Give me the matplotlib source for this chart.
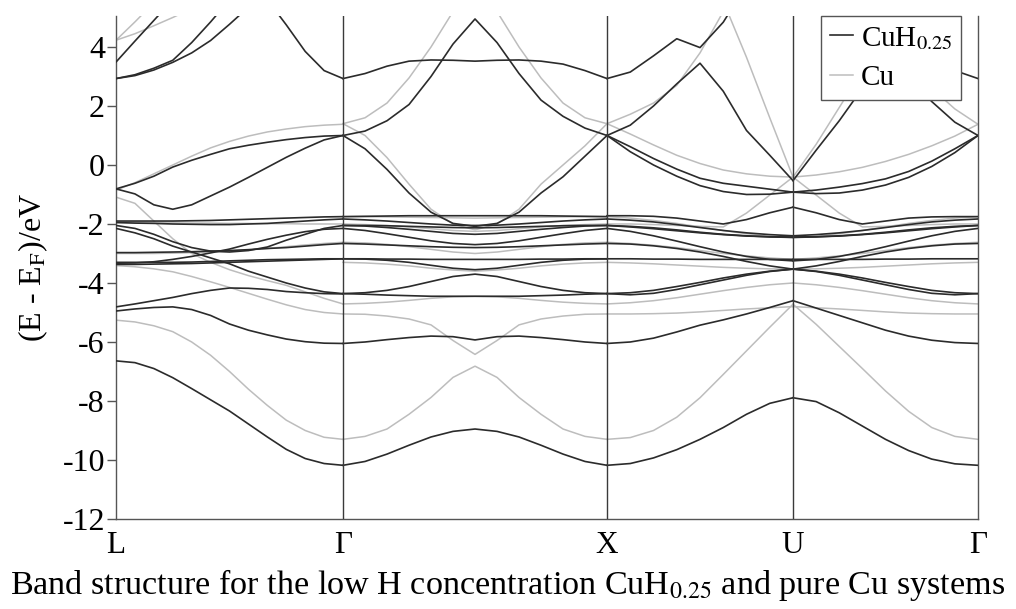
import numpy as np
import matplotlib
matplotlib.use('Agg')
import matplotlib.pyplot as plt
from matplotlib.lines import Line2D

plt.rcParams['font.family'] = ['Liberation Serif', 'DejaVu Serif']
plt.rcParams['mathtext.fontset'] = 'stix'
plt.rcParams['axes.unicode_minus'] = False

nan = np.nan

# k-path: high symmetry points and number of samples per segment
k_labels = ['L', 'Γ', 'X', 'U', 'Γ']
k_ticks = [0.0, 2.27, 4.91, 6.77, 8.62]
n_steps = [12, 12, 8, 8]

# band energies (eV), one list per band, per segment
# L -> Gamma
lg_cuh = [
    [3.49, 4.2, 4.9, 5.6, nan, nan, nan, nan, nan, nan, nan, nan, nan],
    [2.93, 3.06, 3.28, 3.55, 4.15, 4.85, 5.6, nan, nan, nan, nan, nan, nan],
    [2.93, 3.03, 3.22, 3.48, 3.8, 4.22, 4.77, 5.35, nan, nan, nan, nan, nan],
    [nan, nan, nan, nan, nan, nan, nan, nan, 5.6, 4.75, 3.85, 3.2, 2.93],
    [-0.81, -0.62, -0.38, -0.07, 0.16, 0.36, 0.55, 0.67, 0.77, 0.86, 0.93, 0.98, 1.0],
    [-0.81, -0.98, -1.35, -1.5, -1.35, -1.05, -0.75, -0.42, -0.08, 0.26, 0.57, 0.85, 1.0],
    [-1.9, -1.9, -1.9, -1.9, -1.89, -1.88, -1.86, -1.84, -1.82, -1.8, -1.78, -1.76, -1.75],
    [-1.95, -1.97, -1.98, -2.0, -2.01, -2.02, -2.02, -2.0, -1.98, -1.94, -1.9, -1.86, -1.83],
    [-2.05, -2.15, -2.35, -2.6, -2.8, -2.92, -2.95, -2.9, -2.78, -2.55, -2.35, -2.15, -2.05],
    [-2.15, -2.3, -2.5, -2.75, -2.95, -3.15, -3.35, -3.6, -3.8, -4.0, -4.17, -4.3, -4.36],
    [-3.33, -3.32, -3.28, -3.2, -3.1, -2.98, -2.85, -2.68, -2.52, -2.38, -2.26, -2.18, -2.15],
    [-3.3, -3.3, -3.3, -3.3, -3.29, -3.27, -3.25, -3.23, -3.21, -3.2, -3.19, -3.18, -3.18],
    [-3.37, -3.37, -3.36, -3.35, -3.34, -3.32, -3.3, -3.28, -3.26, -3.24, -3.22, -3.2, -3.18],
    [-2.97, -2.97, -2.96, -2.95, -2.94, -2.92, -2.9, -2.87, -2.83, -2.8, -2.75, -2.7, -2.66],
    [-4.81, -4.71, -4.6, -4.49, -4.36, -4.25, -4.17, -4.18, -4.22, -4.29, -4.33, -4.36, -4.37],
    [-4.95, -4.88, -4.83, -4.81, -4.9, -5.1, -5.39, -5.6, -5.76, -5.9, -5.99, -6.04, -6.05],
    [-6.64, -6.7, -6.9, -7.21, -7.58, -7.96, -8.34, -8.78, -9.22, -9.64, -9.95, -10.12, -10.18],
]
lg_cu = [
    [4.23, 4.85, 5.5, nan, nan, nan, nan, nan, nan, nan, nan, nan, nan],
    [4.23, 4.45, 4.72, 5.0, 5.3, nan, nan, nan, nan, nan, nan, nan, nan],
    [-0.85, -0.6, -0.3, 0.0, 0.3, 0.58, 0.8, 0.98, 1.12, 1.22, 1.3, 1.35, 1.38],
    [-1.09, -1.3, -1.9, -2.5, -3.0, -3.3, -3.55, -3.75, -3.92, -4.08, -4.3, -4.52, -4.71],
    [-1.95, -1.95, -1.96, -1.96, -1.97, -1.97, -1.98, -1.98, -1.99, -1.99, -2.0, -2.0, -2.0],
    [-3.0, -3.0, -3.0, -2.99, -2.97, -2.95, -2.92, -2.88, -2.83, -2.77, -2.71, -2.66, -2.62],
    [-3.41, -3.45, -3.52, -3.62, -3.78, -3.96, -4.15, -4.35, -4.55, -4.74, -4.9, -5.0, -5.05],
    [-5.26, -5.32, -5.45, -5.65, -6.0, -6.45, -7.0, -7.6, -8.15, -8.65, -9.0, -9.23, -9.3],
]
# Gamma -> X
gx_cuh = [
    [2.93, 3.1, 3.35, 3.52, 3.56, 3.55, 3.52, 3.55, 3.56, 3.52, 3.42, 3.2, 2.93],
    [1.0, 1.15, 1.5, 2.05, 3.0, 4.1, 4.95, 4.15, 3.1, 2.2, 1.65, 1.25, 1.0],
    [1.0, 0.55, -0.15, -0.95, -1.6, -1.98, -2.08, -1.98, -1.6, -0.95, -0.4, 0.3, 1.0],
    [-1.75, -1.74, -1.73, -1.72, -1.72, -1.72, -1.72, -1.72, -1.72, -1.72, -1.73, -1.74, -1.75],
    [-1.83, -1.86, -1.9, -1.95, -2.0, -2.04, -2.05, -2.04, -2.0, -1.95, -1.9, -1.86, -1.83],
    [-2.05, -2.07, -2.12, -2.18, -2.25, -2.32, -2.35, -2.32, -2.25, -2.18, -2.12, -2.07, -2.05],
    [-2.05, -2.05, -2.06, -2.08, -2.1, -2.12, -2.13, -2.12, -2.1, -2.08, -2.06, -2.05, -2.05],
    [-2.15, -2.22, -2.33, -2.45, -2.57, -2.66, -2.7, -2.66, -2.57, -2.45, -2.33, -2.22, -2.15],
    [-2.66, -2.68, -2.71, -2.74, -2.77, -2.79, -2.8, -2.79, -2.77, -2.74, -2.71, -2.68, -2.66],
    [-3.18, -3.18, -3.19, -3.19, -3.2, -3.2, -3.2, -3.2, -3.2, -3.19, -3.19, -3.18, -3.18],
    [-3.18, -3.19, -3.23, -3.3, -3.4, -3.5, -3.55, -3.5, -3.4, -3.3, -3.23, -3.19, -3.18],
    [-4.36, -4.33, -4.25, -4.12, -3.95, -3.78, -3.7, -3.78, -3.95, -4.12, -4.25, -4.33, -4.36],
    [-4.36, -4.38, -4.41, -4.43, -4.45, -4.45, -4.45, -4.45, -4.45, -4.43, -4.41, -4.38, -4.36],
    [-6.05, -6.0, -5.92, -5.85, -5.8, -5.82, -5.93, -5.82, -5.8, -5.85, -5.92, -6.0, -6.05],
    [-10.18, -10.05, -9.8, -9.5, -9.22, -9.03, -8.95, -9.03, -9.22, -9.5, -9.8, -10.05, -10.18],
]
gx_cu = [
    [1.4, 1.6, 2.1, 2.95, 4.0, 5.2, 6.3, 5.2, 4.0, 2.95, 2.1, 1.6, 1.4],
    [1.4, 1.0, 0.25, -0.65, -1.5, -2.0, -2.2, -2.0, -1.5, -0.65, 0.0, 0.65, 1.4],
    [-1.75, -1.75, -1.76, -1.77, -1.78, -1.79, -1.8, -1.79, -1.78, -1.77, -1.76, -1.75, -1.75],
    [-2.0, -2.02, -2.05, -2.1, -2.16, -2.22, -2.25, -2.22, -2.16, -2.1, -2.05, -2.02, -2.0],
    [-2.62, -2.64, -2.69, -2.77, -2.86, -2.95, -3.0, -2.95, -2.86, -2.77, -2.69, -2.64, -2.62],
    [-3.3, -3.32, -3.36, -3.42, -3.5, -3.56, -3.6, -3.56, -3.5, -3.42, -3.36, -3.32, -3.3],
    [-4.71, -4.69, -4.65, -4.59, -4.52, -4.47, -4.45, -4.47, -4.52, -4.59, -4.65, -4.69, -4.71],
    [-5.05, -5.06, -5.12, -5.22, -5.42, -5.95, -6.42, -5.95, -5.42, -5.22, -5.12, -5.06, -5.05],
    [-9.3, -9.2, -8.95, -8.45, -7.88, -7.2, -6.82, -7.2, -7.88, -8.45, -8.95, -9.2, -9.3],
]
# X -> U
xu_cuh = [
    [2.93, 3.15, 3.7, 4.28, 3.98, 4.84, 6.1, nan, nan],
    [1.0, 1.35, 2.0, 2.75, 3.45, 2.5, 1.17, 0.33, -0.53],
    [1.0, 0.62, 0.22, -0.14, -0.45, -0.62, -0.72, -0.82, -0.92],
    [1.0, 0.45, 0.0, -0.38, -0.7, -0.9, -1.0, -0.99, -0.92],
    [-1.72, -1.72, -1.74, -1.8, -1.9, -2.0, -1.85, -1.62, -1.43],
    [-1.83, -1.87, -1.93, -2.02, -2.12, -2.22, -2.3, -2.36, -2.4],
    [-2.05, -2.08, -2.13, -2.2, -2.28, -2.35, -2.4, -2.44, -2.45],
    [-2.05, -2.1, -2.16, -2.23, -2.3, -2.36, -2.41, -2.43, -2.44],
    [-2.15, -2.25, -2.4, -2.58, -2.77, -2.95, -3.1, -3.2, -3.25],
    [-2.66, -2.68, -2.74, -2.83, -2.95, -3.1, -3.27, -3.42, -3.53],
    [-3.18, -3.18, -3.19, -3.19, -3.2, -3.2, -3.2, -3.2, -3.2],
    [-4.36, -4.33, -4.25, -4.12, -3.98, -3.83, -3.7, -3.6, -3.53],
    [-4.36, -4.4, -4.35, -4.22, -4.06, -3.9, -3.74, -3.61, -3.53],
    [-6.05, -6.0, -5.87, -5.66, -5.43, -5.25, -5.05, -4.83, -4.6],
    [-10.18, -10.12, -9.93, -9.65, -9.3, -8.9, -8.45, -8.08, -7.89],
]
xu_cu = [
    [1.4, 1.72, 2.1, 2.7, 3.8, 5.2, 6.5, nan, nan],
    [nan, nan, nan, nan, nan, 5.55, 3.65, 1.6, -0.41],
    [1.4, 1.05, 0.68, 0.33, 0.05, -0.17, -0.3, -0.38, -0.41],
    [-1.75, -1.8, -1.88, -1.98, -2.1, -2.22, -2.33, -2.42, -2.48],
    [-2.0, -2.0, -2.02, -2.05, -2.08, -2.1, -1.63, -1.02, -0.41],
    [-2.62, -2.66, -2.72, -2.8, -2.9, -3.0, -3.08, -3.15, -3.2],
    [-3.3, -3.32, -3.35, -3.39, -3.43, -3.47, -3.5, -3.52, -3.53],
    [-4.71, -4.67, -4.6, -4.5, -4.38, -4.26, -4.15, -4.06, -4.0],
    [-5.05, -5.05, -5.04, -5.02, -4.98, -4.93, -4.88, -4.84, -4.8],
    [-9.3, -9.24, -9.0, -8.55, -7.89, -7.1, -6.3, -5.5, -4.72],
]
# U -> Gamma
ug_cuh = [
    [-0.53, 0.5, 1.5, 2.6, 3.7, 4.8, 6.0, nan, nan],
    [nan, nan, nan, nan, nan, 4.3, 3.6, 3.2, 2.93],
    [nan, nan, nan, nan, 4.0, 3.0, 2.15, 1.45, 1.0],
    [-0.92, -0.85, -0.75, -0.63, -0.47, -0.22, 0.13, 0.55, 1.0],
    [-0.92, -0.97, -0.95, -0.85, -0.68, -0.42, -0.05, 0.42, 1.0],
    [-1.43, -1.62, -1.85, -2.0, -1.9, -1.8, -1.76, -1.75, -1.75],
    [-2.4, -2.36, -2.3, -2.22, -2.12, -2.02, -1.93, -1.87, -1.83],
    [-2.45, -2.44, -2.4, -2.35, -2.28, -2.2, -2.13, -2.08, -2.05],
    [-2.44, -2.43, -2.41, -2.36, -2.3, -2.23, -2.16, -2.1, -2.05],
    [-3.25, -3.2, -3.1, -2.95, -2.77, -2.58, -2.4, -2.25, -2.15],
    [-3.53, -3.42, -3.27, -3.1, -2.95, -2.83, -2.74, -2.68, -2.66],
    [-3.2, -3.2, -3.2, -3.2, -3.19, -3.19, -3.18, -3.18, -3.18],
    [-3.53, -3.6, -3.7, -3.83, -3.98, -4.12, -4.25, -4.33, -4.36],
    [-3.53, -3.61, -3.74, -3.9, -4.06, -4.22, -4.35, -4.4, -4.36],
    [-4.6, -4.85, -5.1, -5.35, -5.6, -5.8, -5.94, -6.02, -6.05],
    [-7.89, -8.02, -8.4, -8.85, -9.3, -9.68, -9.97, -10.13, -10.18],
]
ug_cu = [
    [-0.41, 0.7, 1.95, 3.2, 4.5, nan, nan, nan, nan],
    [-0.41, -0.34, -0.23, -0.08, 0.12, 0.36, 0.65, 0.98, 1.38],
    [nan, nan, nan, nan, nan, 3.5, 2.6, 1.9, 1.38],
    [-0.41, -1.02, -1.63, -2.1, -2.08, -2.05, -2.02, -2.0, -2.0],
    [-2.48, -2.42, -2.33, -2.22, -2.1, -1.98, -1.88, -1.8, -1.75],
    [-3.2, -3.15, -3.08, -3.0, -2.9, -2.8, -2.72, -2.66, -2.62],
    [-3.53, -3.52, -3.5, -3.47, -3.43, -3.39, -3.35, -3.32, -3.3],
    [-4.0, -4.06, -4.15, -4.26, -4.38, -4.5, -4.6, -4.67, -4.71],
    [-4.8, -4.84, -4.88, -4.93, -4.98, -5.02, -5.04, -5.05, -5.05],
    [-4.72, -5.4, -6.15, -6.9, -7.66, -8.35, -8.9, -9.2, -9.3],
]

cuh_segments = [lg_cuh, gx_cuh, xu_cuh, ug_cuh]
cu_segments = [lg_cu, gx_cu, xu_cu, ug_cu]

dark = '#2b2b2b'
light = '#bdbdbd'

fig = plt.figure(figsize=(10.16, 6.09), dpi=100)
ax = fig.add_axes([0.1142, 0.1478, 0.8484, 0.8259])

for s in range(4):
    k = np.linspace(k_ticks[s], k_ticks[s + 1], n_steps[s] + 1)
    for band in cu_segments[s]:
        ax.plot(k, band, color=light, lw=1.1, zorder=2)
    for band in cuh_segments[s]:
        ax.plot(k, band, color=dark, lw=1.2, zorder=3)

for kt in k_ticks[1:-1]:
    ax.axvline(kt, color='#3a3a3a', lw=1.0, zorder=4)

ax.set_xlim(k_ticks[0], k_ticks[-1])
ax.set_ylim(-12, 5.05)
ax.set_xticks(k_ticks)
ax.set_xticklabels(k_labels, fontsize=22.5)
ax.set_yticks(np.arange(-12, 5, 2))
ax.tick_params(axis='x', length=0, pad=9)
ax.tick_params(axis='y', direction='out', length=6.5, width=1, color='#555555',
               labelsize=23, pad=1.5)
for sp in ax.spines.values():
    sp.set_color('#555555')
    sp.set_linewidth(1.0)
ax.spines['top'].set_visible(False)

fig.text(0.0325, 0.561, '(E - E$_\\mathrm{F}$)/eV', rotation=90,
         ha='center', va='center', fontsize=23)

handles = [Line2D([], [], color=dark, lw=1.2), Line2D([], [], color=light, lw=1.1)]
leg = ax.legend(handles, ['CuH$_{0.25}$', 'Cu'], loc='upper right',
                bbox_to_anchor=(0.9805, 1.0), fontsize=21, handlelength=0.8,
                handletextpad=0.25, borderpad=0.3, labelspacing=0.45,
                borderaxespad=0.0, fancybox=False, framealpha=1.0,
                edgecolor='#555555')
leg.get_frame().set_linewidth(1.0)
leg.set_zorder(10)

fig.text(0.5, 0.04, 'Band structure for the low H concentration CuH$_{0.25}$ and pure Cu systems',
         ha='center', va='center', fontsize=24.6)

fig.savefig('out.png', dpi=100)
